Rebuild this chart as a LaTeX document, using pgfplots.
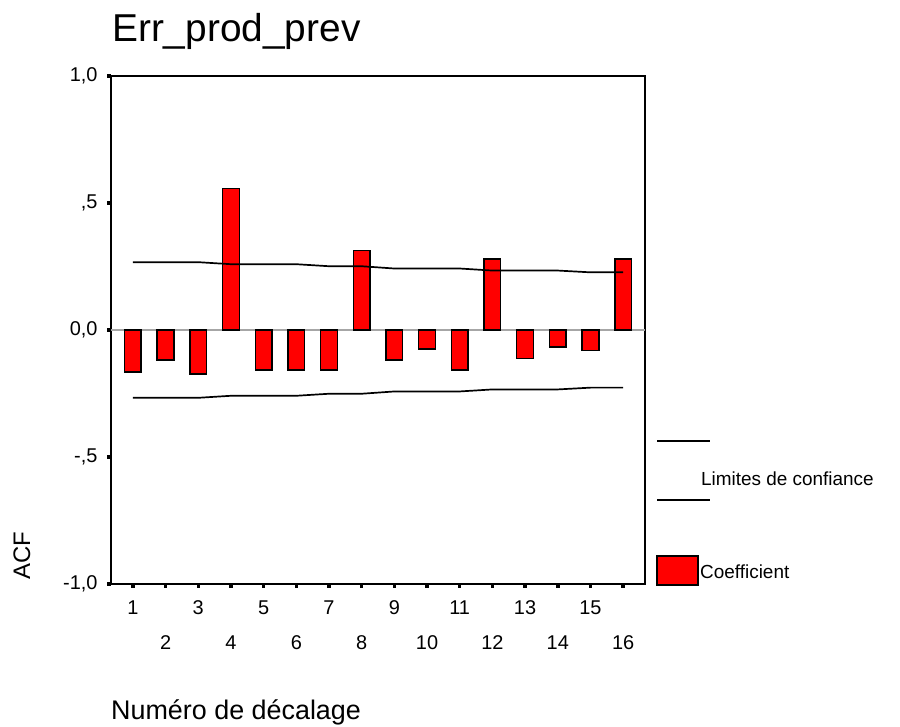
\documentclass[border=0pt]{standalone}
\usepackage{pgfplots}
\pgfplotsset{compat=1.18}
\usepackage{fontspec}
\setmainfont{Liberation Sans}
\begin{document}
\begin{tikzpicture}[x=1bp,y=1bp]
% ACF of Err_prod_prev, SPSS-style
\path[use as bounding box] (0,0) rectangle (900,727);
\begin{axis}[
  at={(111bp,143bp)}, anchor=south west,
  scale only axis,
  width=534bp, height=508bp,
  xmin=0.33, xmax=16.67,
  ymin=-1, ymax=1,
  axis line style={line width=1.7bp},
  clip=false,
  /pgf/number format/assume math mode=true,
  ytick={-1,-0.5,0,0.5,1},
  yticklabels={{-1,0},{-,5},{0,0},{,5},{1,0}},
  xtick={1,3,...,15},
  extra x ticks={2,4,...,16},
  extra x tick style={tick label style={yshift=-35bp}},
  tick align=outside,
  xtick pos=bottom, ytick pos=left,
  major tick length=4bp,
  tick style={line width=3.5bp, black},
  tick label style={font=\fontsize{20}{24}\selectfont, text=black},
  xticklabel style={yshift=-9bp},
  yticklabel style={xshift=-6bp},
]
% zero reference line
\addplot[gray!70, line width=1.2bp] coordinates {(0.33,0) (16.67,0)};
% coefficients
\addplot[ybar, bar width=0.51, bar shift=0, fill=red, draw=black, line width=1.5bp]
  coordinates {
  (1,-0.166) (2,-0.119) (3,-0.174) (4,0.558) (5,-0.158) (6,-0.158)
  (7,-0.158) (8,0.313) (9,-0.119) (10,-0.074) (11,-0.158) (12,0.280)
  (13,-0.112) (14,-0.066) (15,-0.081) (16,0.280)};
% confidence limits
\addplot[black, line width=1.7bp] coordinates {
  (1,0.267) (2,0.267) (3,0.267) (4,0.259) (5,0.259) (6,0.259)
  (7,0.251) (8,0.251) (9,0.242) (10,0.242) (11,0.242)
  (12,0.234) (13,0.234) (14,0.234) (15,0.227) (16,0.227)};
\addplot[black, line width=1.7bp] coordinates {
  (1,-0.267) (2,-0.267) (3,-0.267) (4,-0.259) (5,-0.259) (6,-0.259)
  (7,-0.251) (8,-0.251) (9,-0.242) (10,-0.242) (11,-0.242)
  (12,-0.234) (13,-0.234) (14,-0.234) (15,-0.227) (16,-0.227)};
\end{axis}

% title and axis labels
\node[anchor=base west, inner sep=0pt, font=\fontsize{39}{46}\selectfont] at (112,685) {Err\_prod\_prev};
\node[anchor=base west, inner sep=0pt, font=\fontsize{27}{32}\selectfont] at (111,7) {Numéro de décalage};
\node[anchor=base west, inner sep=0pt, rotate=90, font=\fontsize{24}{28}\selectfont] at (30,147) {ACF};

% legend
\draw[black, line width=1.7bp] (657,286) -- (710,286);
\draw[black, line width=1.7bp] (657,227) -- (710,227);
\node[anchor=west, inner sep=0pt, font=\fontsize{19}{22}\selectfont] at (701,248) {Limites de confiance};
\draw[fill=red, draw=black, line width=1.5bp] (657,142) rectangle (698,171);
\node[anchor=west, inner sep=0pt, font=\fontsize{19}{22}\selectfont] at (700,155) {Coefficient};
\end{tikzpicture}
\end{document}
